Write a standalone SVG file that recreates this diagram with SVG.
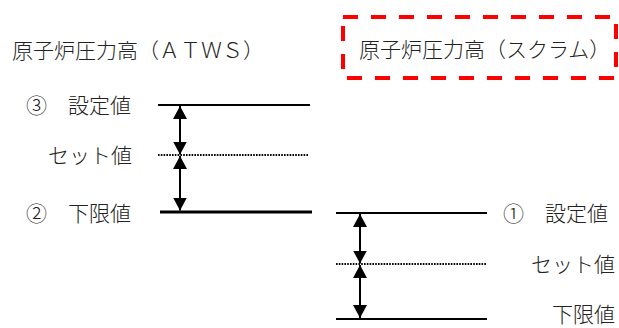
<svg xmlns="http://www.w3.org/2000/svg" width="619" height="328" viewBox="0 0 619 328">
<style>
text{font-family:"Noto Sans CJK JP","Noto Sans",sans-serif;font-size:21px;font-weight:300;fill:#222}
.solid{stroke:#000;stroke-width:2;fill:none}
.thick{stroke:#000;stroke-width:3;fill:none}
.dot{stroke:#000;stroke-width:1.8;stroke-dasharray:1.6 1.2;fill:none}
.arr{stroke:#000;stroke-width:2;fill:none;marker-start:url(#ah);marker-end:url(#ah)}
.redbox{stroke:#ff0000;stroke-width:4;fill:none;stroke-dasharray:15 13}
</style>
<defs>
<marker id="ah" markerUnits="userSpaceOnUse" markerWidth="13" markerHeight="14" refX="13" refY="7" orient="auto-start-reverse" viewBox="0 0 13 14">
<path d="M0,0 L13,7 L0,14 Z" fill="#000"/>
</marker>
</defs>
<g id="title-atws"><text x="12" y="58">原子炉圧力高（ＡＴＷＳ）</text></g>
<g id="title-scram">
<rect class="redbox" x="343" y="17" width="273" height="61"/>
<text x="359" y="57">原子炉圧力高（スクラム）</text>
</g>
<g id="atws-setpoint"><text x="26" y="113">③　設定値</text><line class="solid" x1="158" y1="105" x2="310" y2="105"/></g>
<g id="atws-setvalue"><text x="48" y="163">セット値</text><line class="dot" x1="158" y1="155" x2="308" y2="155"/></g>
<g id="atws-lower"><text x="26" y="221">②　下限値</text><line class="thick" x1="160" y1="212" x2="312" y2="212"/></g>
<g id="scram-setpoint"><line class="solid" x1="336" y1="213" x2="487" y2="213"/><text x="503" y="221">①　設定値</text></g>
<g id="scram-setvalue"><line class="dot" x1="336" y1="264" x2="487" y2="264"/><text x="531" y="272">セット値</text></g>
<g id="scram-lower"><line class="solid" x1="336" y1="319" x2="487" y2="319"/><text x="552" y="322">下限値</text></g>
<g id="connectors">
<line class="arr" x1="180" y1="106" x2="180" y2="154.5"/>
<line class="arr" x1="180" y1="156" x2="180" y2="210.5"/>
<line class="arr" x1="360" y1="214" x2="360" y2="263.5"/>
<line class="arr" x1="360" y1="265" x2="360" y2="318"/>
</g>
</svg>
